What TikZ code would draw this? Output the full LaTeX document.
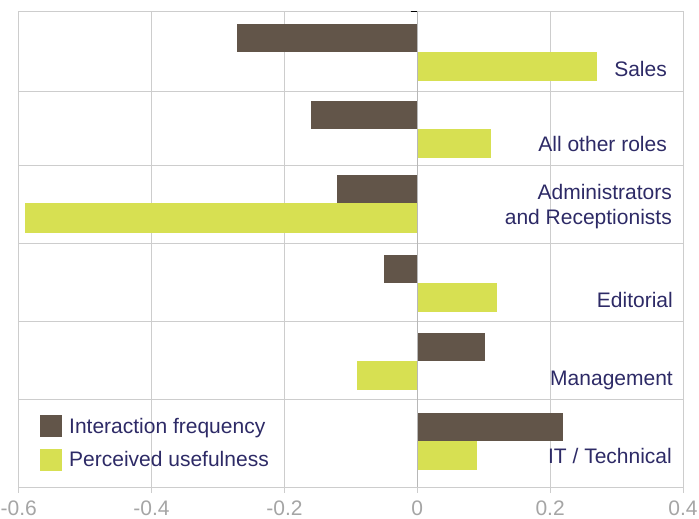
\documentclass[tikz,border=0pt]{standalone}
\usepackage{fontspec}
\setmainfont{Liberation Sans}
\usepackage{xcolor}
\definecolor{barbrown}{HTML}{625549}
\definecolor{bargreen}{HTML}{D7E052}
\definecolor{labelblue}{HTML}{2D2A66}
\definecolor{gridgray}{HTML}{CDCDCD}
\definecolor{tickgray}{HTML}{A5A5A5}

\begin{document}
\begin{tikzpicture}[x=1pt, y=-1pt]
  % Define the value axis (zero position and pixels per unit)
  \def\zx{417.3}
  \def\xs{664.3}

  % Set the styles
  \tikzset{freqbar/.style={fill=barbrown},
           usebar/.style={fill=bargreen},
           gridline/.style={draw=gridgray, line width=0.9pt},
           rolelabel/.style={anchor=base east, inner sep=0pt, text=labelblue, align=right,
                             font=\fontsize{21}{25}\selectfont},
           legendlabel/.style={anchor=base west, inner sep=0pt, text=labelblue,
                               font=\fontsize{21}{25}\selectfont},
           ticklabel/.style={anchor=base, inner sep=0pt, text=tickgray, font=\fontsize{21}{25}\selectfont}}

  \useasboundingbox (0,0) rectangle (699,519);

  % Draw the vertical grid lines
  \foreach \v in {-0.4,-0.2,0.2}{
    \draw[gridline] ({\zx+\xs*\v},11.5) -- ({\zx+\xs*\v},487);
  }

  % Draw the row separators and the frame
  \foreach \r in {11.5,91,165.5,243,321,399.5}{
    \draw[gridline] (18.7,\r) -- (683,\r);
  }
  \draw[gridline] (18.7,11.5) -- (18.7,493);
  \draw[gridline] (683,11.5) -- (683,493);
  \draw[gridline] (18.7,487) -- (683,487);

  % Draw the axis ticks and their labels
  \foreach \v [count=\i] in {-0.6,-0.4,-0.2,0,0.2,0.4}{
    \draw[gridline] ({\zx+\xs*\v},487) -- ({\zx+\xs*\v},493);
    \node[ticklabel] (tick\i) at ({\zx+\xs*\v},515.5) {\v};
  }

  % Draw the bars (row centre / interaction frequency / perceived usefulness)
  \foreach \c/\f/\u in {51.7/-0.271/0.27, 128.5/-0.16/0.111, 203.3/-0.121/-0.59,
                        282.5/-0.05/0.12, 360.5/0.102/-0.091, 440.5/0.219/0.09}{
    \fill[freqbar] (\zx,\c-28) rectangle ({\zx+\xs*\f},\c);
    \fill[usebar] (\zx,\c) rectangle ({\zx+\xs*\u},\c+29.5);
  }

  % Zero line
  \draw[draw=gridgray!90!black, line width=0.9pt] (\zx,11.5) -- (\zx,487);
  \draw[line width=1.5pt] (410.7,11.5) -- (\zx,11.5);

  % Role labels
  \node[rolelabel] (sales) at (667,77) {Sales};
  \node[rolelabel] (allother) at (667,151) {All other roles};
  \node[rolelabel] (admin) at (672,224) {Administrators\\and Receptionists};
  \node[rolelabel] (editorial) at (673,307) {Editorial};
  \node[rolelabel] (management) at (673,385) {Management};
  \node[rolelabel] (ittech) at (672,463) {IT / Technical};

  % Legend
  \fill[freqbar] (40,415) rectangle (62,437);
  \node[legendlabel] (legfreq) at (69,433) {Interaction frequency};
  \fill[usebar] (40,449) rectangle (62,471);
  \node[legendlabel] (leguse) at (69,466) {Perceived usefulness};
\end{tikzpicture}
\end{document}
